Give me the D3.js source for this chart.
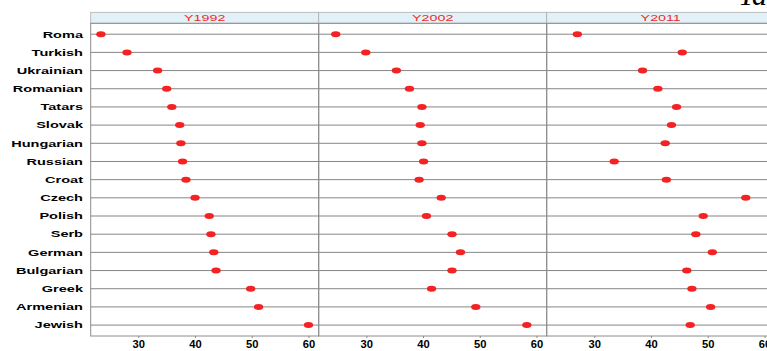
<!DOCTYPE html>
<html lang="en">
  <head>
    <meta charset="utf-8">
    <script src="https://d3js.org/d3.v7.min.js"></script>
    <title>Dot plot by year</title>
    <style>
      body { margin: 0; background: #fff; }
      svg { display: block; }
    </style>
  </head>
  <body>
    <div id="chart"></div>
    <script type="text/javascript">
      var groups = ["Roma", "Turkish", "Ukrainian", "Romanian", "Tatars", "Slovak", "Hungarian",
                    "Russian", "Croat", "Czech", "Polish", "Serb", "German", "Bulgarian",
                    "Greek", "Armenian", "Jewish"];
      var years = ["Y1992", "Y2002", "Y2011"];
      var y1992 = [23.4, 28.0, 33.4, 35.0, 35.9, 37.3, 37.5, 37.8, 38.4, 40.0, 42.5, 42.8, 43.3, 43.7, 49.8, 51.2, 60.0];
      var y2002 = [24.6, 29.9, 35.3, 37.6, 39.8, 39.5, 39.8, 40.1, 39.3, 43.2, 40.6, 45.1, 46.6, 45.1, 41.5, 49.3, 58.3];
      var y2011 = [27.0, 45.5, 38.5, 41.2, 44.5, 43.6, 42.5, 33.5, 42.7, 56.7, 49.2, 47.9, 50.8, 46.3, 47.2, 50.5, 46.9];
      var ticks = [30, 40, 50, 60];

      var series = [y1992, y2002, y2011];

      var width = 767, height = 351;
      var left = 90.7, panelW = 228, panelTop = 23.3, panelBottom = 336, stripH = 11;

      var svg = d3.select("#chart").append("svg")
          .attr("width", width)
          .attr("height", height);

      var y = d3.scalePoint().domain(groups).range([panelTop, panelBottom]).padding(0.6);

      // row labels (stretched sideways like the original)
      svg.append("g").selectAll("text")
          .data(groups)
          .enter().append("text")
          .attr("transform", function (d) { return "translate(83," + (y(d) + 3.3) + ") scale(1.58,1)"; })
          .attr("text-anchor", "end")
          .style("font-family", "Liberation Sans, Arial, sans-serif")
          .style("font-weight", "bold")
          .style("font-size", "9.2px")
          .attr("fill", "#000")
          .text(function (d) { return d; });

      years.forEach(function (yr, i) {
        var x0 = left + i * panelW;
        var x = d3.scaleLinear().domain([21.6, 61.8]).range([x0, x0 + panelW]);
        var g = svg.append("g");

        // strip
        g.append("rect")
            .attr("x", x0).attr("y", panelTop - stripH)
            .attr("width", panelW).attr("height", stripH)
            .attr("fill", "#e2f1f7")
            .attr("stroke", "#b0b0b0")
            .attr("stroke-width", 0.8);
        g.append("text")
            .attr("transform", "translate(" + (x0 + panelW / 2) + "," + (panelTop - 2.4) + ") scale(1.5,1)")
            .attr("text-anchor", "middle")
            .style("font-family", "Liberation Sans, Arial, sans-serif")
            .style("font-size", "9.5px")
            .attr("fill", "#ec2a2a")
            .text(yr);

        // row lines
        g.append("g").selectAll("line")
            .data(groups)
            .enter().append("line")
            .attr("x1", x0).attr("x2", x0 + panelW)
            .attr("y1", function (d) { return y(d); })
            .attr("y2", function (d) { return y(d); })
            .attr("stroke", "#858585")
            .attr("stroke-width", 1);

        // panel frame
        g.append("rect")
            .attr("x", x0).attr("y", panelTop)
            .attr("width", panelW).attr("height", panelBottom - panelTop)
            .attr("fill", "none")
            .attr("stroke", "#8c8c8c")
            .attr("stroke-width", 1);

        // points
        g.append("g").selectAll("ellipse")
            .data(series[i])
            .enter().append("ellipse")
            .attr("cx", function (d) { return x(d); })
            .attr("cy", function (d, j) { return y(groups[j]); })
            .attr("rx", 4.7)
            .attr("ry", 3)
            .attr("fill", "#f42222");

        // x axis
        var ax = g.append("g")
            .attr("transform", "translate(0," + panelBottom + ")")
            .call(d3.axisBottom(x).tickValues(ticks).tickSize(2).tickPadding(3.2));
        ax.select(".domain").remove();
        ax.selectAll("line").attr("stroke", "#888");
        ax.selectAll("text")
            .attr("transform", "scale(1.12,1)")
            .style("font-family", "Liberation Sans, Arial, sans-serif")
            .style("font-weight", "bold")
            .style("font-size", "10px")
            .attr("fill", "#000");
      });

      // clipped title remnant at the top right
      svg.append("text")
          .attr("x", 738).attr("y", 5)
          .style("font-family", "Liberation Serif, serif")
          .style("font-style", "italic")
          .style("font-size", "30px")
          .attr("fill", "#000")
          .text("Ya");
    </script>
  </body>
</html>
